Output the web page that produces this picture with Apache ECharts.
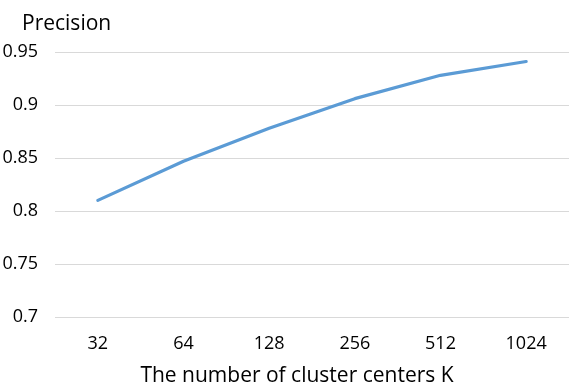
<!DOCTYPE html>
<html>
<head>
<meta charset="utf-8">
<script src="https://cdn.jsdelivr.net/npm/echarts@6/dist/echarts.min.js"></script>
<style>html,body{margin:0;padding:0;background:#fff}#c{width:580px;height:389px}</style>
</head>
<body>
<div id="c"></div>
<script>
var categories = ['32', '64', '128', '256', '512', '1024'];
var precision = [0.810, 0.847, 0.878, 0.906, 0.928, 0.941];
var yTicks = { min: 0.7, max: 0.95, interval: 0.05 };

var chart = echarts.init(document.getElementById('c'), null, { renderer: 'canvas' });
var font = '"Open Sans", sans-serif';
chart.setOption({
  animation: false,
  backgroundColor: '#ffffff',
  grid: { left: 55, right: 11, top: 52, bottom: 72, containLabel: false, outerBoundsMode: 'none' },
  title: {
    text: 'Precision', left: 17, top: 9,
    textStyle: { fontFamily: font, fontSize: 21, fontWeight: 'normal', color: '#000' }
  },
  xAxis: {
    type: 'category', data: categories, boundaryGap: true,
    name: 'The number of cluster centers K', nameLocation: 'middle', nameGap: 49,
    nameTextStyle: { fontFamily: font, fontSize: 21, color: '#000', padding: [0, 30, 0, 0] },
    axisLine: { show: false }, axisTick: { show: false },
    axisLabel: { fontFamily: font, fontSize: 18, color: '#000', margin: 18 }
  },
  yAxis: {
    type: 'value', min: yTicks.min, max: yTicks.max, interval: yTicks.interval,
    axisLine: { show: false }, axisTick: { show: false },
    axisLabel: { fontFamily: font, fontSize: 18, color: '#000', margin: 17,
      formatter: function (v) { return String(parseFloat(v.toFixed(2))); } },
    splitLine: { lineStyle: { color: '#d9d9d9', width: 1 } }
  },
  series: [{
    type: 'line', data: precision, symbol: 'none', smooth: false,
    lineStyle: { color: '#5b9bd5', width: 3.2, cap: 'round' }
  }]
});
</script>
</body>
</html>
